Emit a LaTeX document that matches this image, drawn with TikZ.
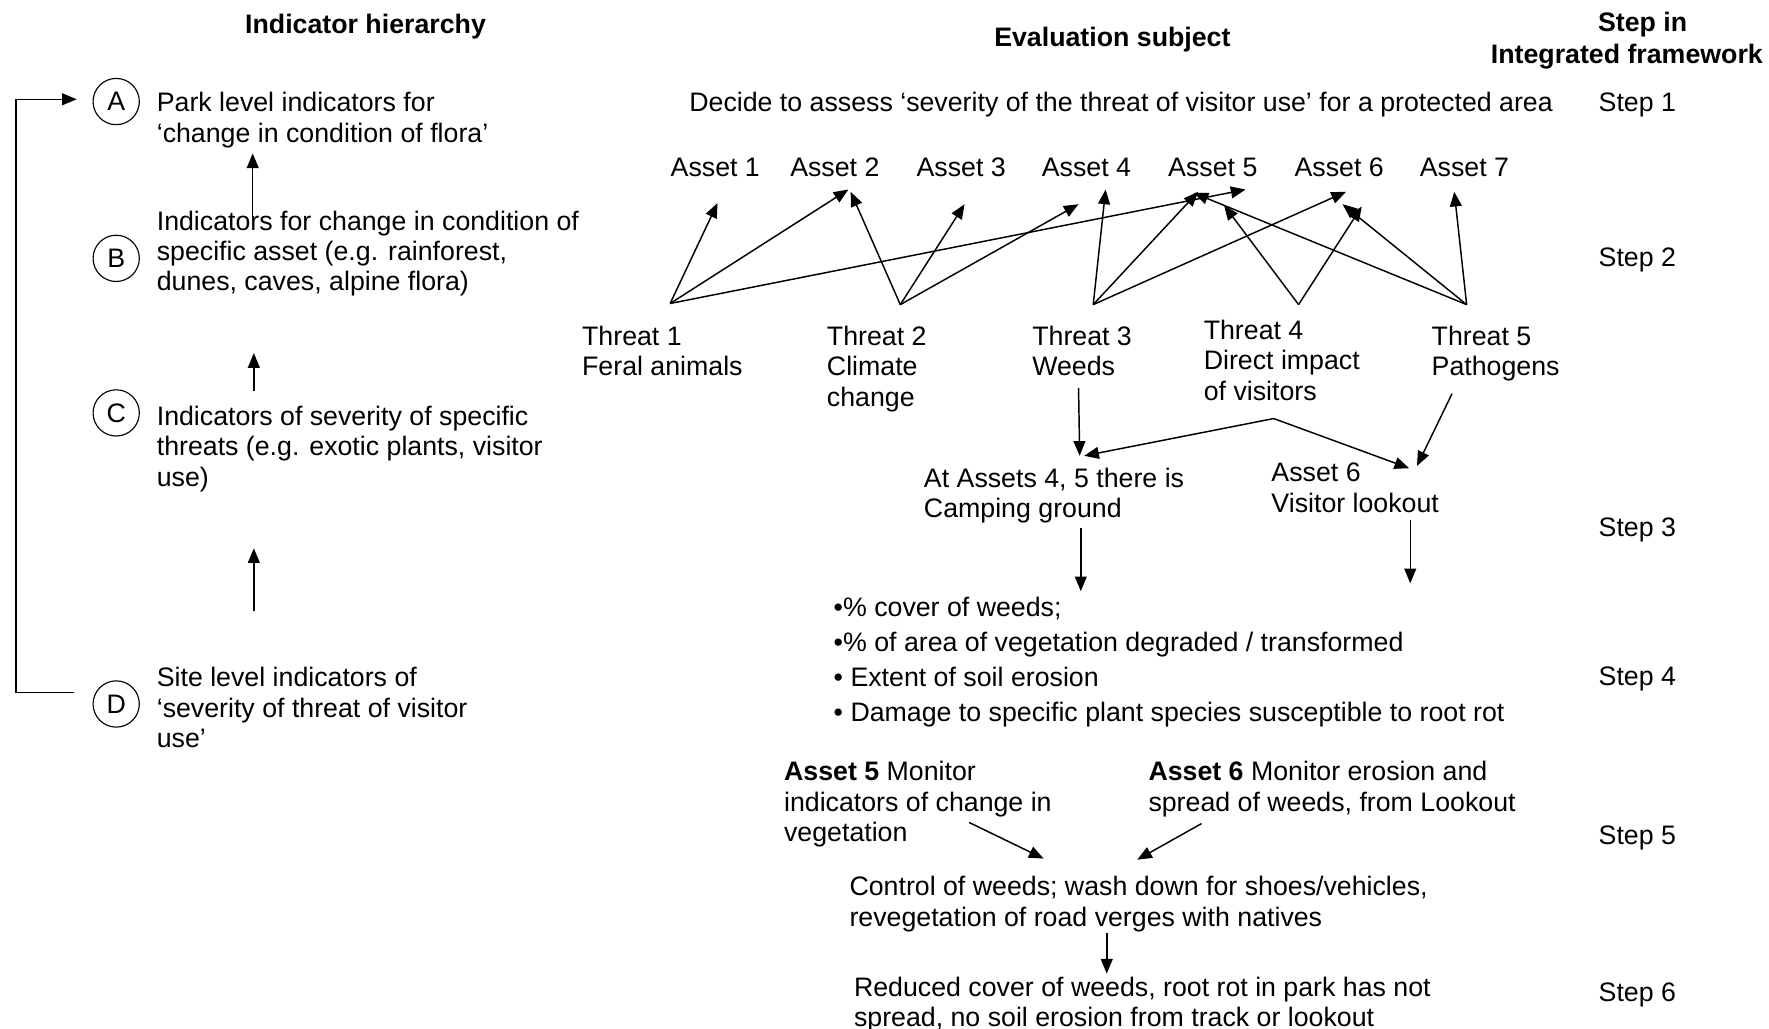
\documentclass[tikz,border=0pt]{standalone}
\usepackage{fontspec}
\setmainfont{Liberation Sans}
\usetikzlibrary{arrows.meta}
\newcommand{\txtsize}{\fontsize{23.7}{27}\selectfont}
\begin{document}
\begin{tikzpicture}[x=1pt,y=-1pt,
  every node/.style={inner sep=0pt, outer sep=0pt},
  body/.style={anchor=north west, align=left, font=\txtsize},
  head/.style={anchor=center, font=\txtsize\bfseries},
  lbl/.style={anchor=center, font=\txtsize},
  ring/.style={circle, draw, line width=1pt, minimum size=41pt, font=\txtsize},
  link/.style={line width=1.3pt, -{Triangle[length=13pt,width=10.5pt]}},
  twin/.style={line width=1.3pt, {Triangle[length=13pt,width=10.5pt]}-{Triangle[length=13pt,width=10.5pt]}},
]
\useasboundingbox[fill=white] (0,0) rectangle (1568,912);

% column headings
\node[head] (hIH) at (324,24) {Indicator hierarchy};
\node[head] (hES) at (986,35) {Evaluation subject};
\node[head] (hS1) at (1456,22) {Step in};
\node[head] (hS2) at (1442,50) {Integrated framework};

% indicator hierarchy
\node[ring] (A) at (103,90) {A};
\node[ring] (B) at (103,229) {B};
\node[ring] (C) at (103,366) {C};
\node[ring] (D) at (103,624) {D};
\node[body] (tA) at (139,80) {Park level indicators for\strut\\‘change in condition of flora’\strut};
\node[body] (tB) at (139,185) {Indicators for change in condition of\strut\\specific asset (e.g. rainforest,\strut\\dunes, caves, alpine flora)\strut};
\node[body] (tC) at (139,358) {Indicators of severity of specific\strut\\threats (e.g. exotic plants, visitor\strut\\use)\strut};
\node[body] (tD) at (139,590) {Site level indicators of\strut\\‘severity of threat of visitor\strut\\use’\strut};

\coordinate (ab0) at (224,192); \coordinate (ab1) at (224,136);
\coordinate (bc0) at (225,347); \coordinate (bc1) at (225,313);
\coordinate (cd0) at (225,542); \coordinate (cd1) at (225,486);
\draw[link] (ab0) -- (ab1);
\draw[link] (bc0) -- (bc1);
\draw[link] (cd0) -- (cd1);

\coordinate (brD) at (66,614); \coordinate (brC) at (14,614); \coordinate (brA) at (68,88);
\draw[link] (brD) -- (brC) |- (brA);

% steps
\node[body] (s1) at (1417,80) {Step 1\strut};
\node[body] (s2) at (1417,217) {Step 2\strut};
\node[body] (s3) at (1417,457) {Step 3\strut};
\node[body] (s4) at (1417,589) {Step 4\strut};
\node[body] (s5) at (1417,730) {Step 5\strut};
\node[body] (s6) at (1417,869) {Step 6\strut};

% evaluation subject
\node[body] (dec) at (611,80) {Decide to assess ‘severity of the threat of visitor use’ for a protected area\strut};

\node[lbl] (a1) at (634,148) {Asset 1};
\node[lbl] (a2) at (740,148) {Asset 2};
\node[lbl] (a3) at (852,148) {Asset 3};
\node[lbl] (a4) at (963,148) {Asset 4};
\node[lbl] (a5) at (1075,148) {Asset 5};
\node[lbl] (a6) at (1187,148) {Asset 6};
\node[lbl] (a7) at (1298,148) {Asset 7};

\node[body] (th1) at (516,287) {Threat 1\strut\\Feral animals\strut};
\node[body] (th2) at (733,287) {Threat 2\strut\\Climate\strut\\change\strut};
\node[body] (th3) at (915,287) {Threat 3\strut\\Weeds\strut};
\node[body] (th4) at (1067,282) {Threat 4\strut\\Direct impact\strut\\of visitors\strut};
\node[body] (th5) at (1269,287) {Threat 5\strut\\Pathogens\strut};

% threat-to-asset links
\coordinate (o1) at (594,269);
\coordinate (o2) at (798,270);
\coordinate (o3) at (969,270);
\coordinate (o4) at (1151,270);
\coordinate (o5) at (1300,270);

\coordinate (p11) at (636,180);
\coordinate (p12) at (752,168);
\coordinate (p15) at (1104,168);
\coordinate (p22) at (754,170);
\coordinate (p23) at (855,181);
\coordinate (p24) at (956,181);
\coordinate (p34) at (980,168);
\coordinate (p35) at (1062,170);
\coordinate (p36) at (1193,170);
\coordinate (p45) at (1085,182);
\coordinate (p46) at (1207,183);
\coordinate (p55) at (1058,171);
\coordinate (p56) at (1190,181);
\coordinate (p57) at (1289,170);

\draw[link] (o1) -- (p11);
\draw[link] (o1) -- (p12);
\draw[link] (o1) -- (p15);
\draw[link] (o2) -- (p22);
\draw[link] (o2) -- (p23);
\draw[link] (o2) -- (p24);
\draw[link] (o3) -- (p34);
\draw[link] (o3) -- (p35);
\draw[link] (o3) -- (p36);
\draw[link] (o4) -- (p45);
\draw[link] (o4) -- (p46);
\draw[link] (o5) -- (p55);
\draw[link] (o5) -- (p56);
\draw[link] (o5) -- (p57);

% sites
\node[body] (camp) at (819,413) {At Assets 4, 5 there is\strut\\Camping ground\strut};
\node[body] (look) at (1127,408) {Asset 6\strut\\Visitor lookout\strut};

\coordinate (w0) at (956,344); \coordinate (w1) at (957,404);
\coordinate (vL) at (961,404); \coordinate (vT) at (1129,371); \coordinate (vR) at (1249,415);
\coordinate (g0) at (1287,349); \coordinate (g1) at (1256,413);
\draw[link] (w0) -- (w1);
\draw[twin] (vL) -- (vT) -- (vR);
\draw[link] (g0) -- (g1);

\coordinate (c0) at (958,468); \coordinate (c1) at (958,524);
\coordinate (l0) at (1250,461); \coordinate (l1) at (1250,517);
\draw[link] (c0) -- (c1);
\draw[link] (l0) -- (l1);

% site indicators
\node[body, font=\fontsize{23.7}{31}\selectfont] (bul) at (739,524.5) {•\% cover of weeds;\strut\\•\% of area of vegetation degraded / transformed\strut\\• Extent of soil erosion\strut\\• Damage to specific plant species susceptible to root rot\strut};

% monitoring and management
\node[body] (m5) at (695,673) {\textbf{Asset 5} Monitor\strut\\indicators of change in\strut\\vegetation\strut};
\node[body] (m6) at (1018,673) {\textbf{Asset 6} Monitor erosion and\strut\\spread of weeds, from Lookout\strut};
\coordinate (m50) at (859,729); \coordinate (m51) at (925,761);
\coordinate (m60) at (1065,730); \coordinate (m61) at (1008,762);
\draw[link] (m50) -- (m51);
\draw[link] (m60) -- (m61);

\node[body] (ctl) at (753,775) {Control of weeds; wash down for shoes/vehicles,\strut\\revegetation of road verges with natives\strut};
\coordinate (k0) at (981,827); \coordinate (k1) at (981,863);
\draw[link] (k0) -- (k1);

\node[body] (red) at (757,864) {Reduced cover of weeds, root rot in park has not\strut\\spread, no soil erosion from track or lookout\strut};
\end{tikzpicture}
\end{document}
